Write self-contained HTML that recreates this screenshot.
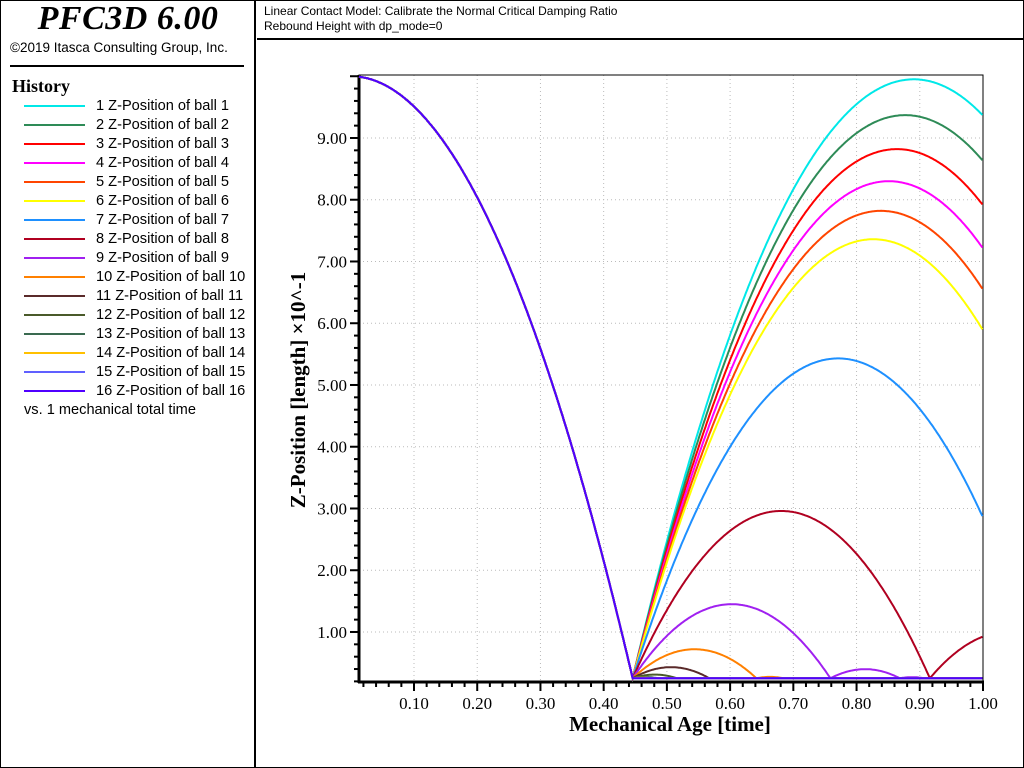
<!DOCTYPE html>
<html><head><meta charset="utf-8"><style>
body{margin:0;background:#fff;width:1024px;height:768px;overflow:hidden;font-family:"Liberation Sans",sans-serif}
#frame{position:absolute;left:0;top:0;width:1022px;height:766px;border:1px solid #000}
#left{position:absolute;left:0;top:0;width:256px;height:768px;border-right:2px solid #000;box-sizing:border-box}
#title{position:absolute;left:0;top:0px;width:256px;text-align:center;font:italic bold 34px "Liberation Serif",serif;letter-spacing:0.5px}
#copy{position:absolute;left:10px;top:40px;font-size:13.5px}
#sep{position:absolute;left:10px;top:65px;width:234px;height:2px;background:#000}
#hist{position:absolute;left:12px;top:76px;font:bold 18px "Liberation Serif",serif}
.le{position:absolute;left:24px;font-size:14.6px;white-space:nowrap}
.le span{display:inline-block;width:61px;height:2px;vertical-align:middle;margin-right:11px}
#head{position:absolute;left:257px;top:0;width:767px;height:40px;border-bottom:2px solid #000;font-size:12px;line-height:15px;padding:4px 7px;box-sizing:border-box}
</style></head><body>
<div id="frame"></div>
<div id="left">
<div id="title">PFC3D 6.00</div>
<div id="copy">©2019 Itasca Consulting Group, Inc.</div>
<div id="sep"></div>
<div id="hist">History</div>
<div id="legend"></div>
</div>
<div id="head">Linear Contact Model: Calibrate the Normal Critical Damping Ratio<br>Rebound Height with dp_mode=0</div>
<svg id="chart" width="1024" height="768" style="position:absolute;left:0;top:0"></svg>
<script>
const seriesLabels=["1 Z-Position of ball 1","2 Z-Position of ball 2","3 Z-Position of ball 3","4 Z-Position of ball 4","5 Z-Position of ball 5","6 Z-Position of ball 6","7 Z-Position of ball 7","8 Z-Position of ball 8","9 Z-Position of ball 9","10 Z-Position of ball 10","11 Z-Position of ball 11","12 Z-Position of ball 12","13 Z-Position of ball 13","14 Z-Position of ball 14","15 Z-Position of ball 15","16 Z-Position of ball 16"];
const seriesColors=["#00e8e8","#2e8b57","#ff0000","#ff00ff","#ff4500","#ffff00","#1e90ff","#b00020","#a020f0","#ff8000","#5a2a2a","#4a5a2a","#3a6a50","#ffc000","#6060ff","#5000ff"];
// first rebound peak heights (x10^-1 length)
const firstPeaks=[9.95,9.37,8.82,8.30,7.82,7.36,5.43,2.96,1.45,0.72,0.43,0.31,0.27,0.26,0.25,0.25];
const dropHeight=10.0, floorZ=0.25, gravity=98.1;
const xTicks=[0.1,0.2,0.3,0.4,0.5,0.6,0.7,0.8,0.9,1.0];
const yTicks=[1,2,3,4,5,6,7,8,9];
const X0=0.013,X1=1.0,Y0=0.19,Y1=10.02;
const PL=359,PR=983,PT=75,PB=682;
const sx=v=>PL+(v-X0)/(X1-X0)*(PR-PL);
const sy=v=>PB-(v-Y0)/(Y1-Y0)*(PB-PT);
const svg=document.getElementById('chart');
const NS='http://www.w3.org/2000/svg';
function mk(t,a){const e=document.createElementNS(NS,t);for(const k in a)e.setAttribute(k,a[k]);svg.appendChild(e);return e;}
xTicks.forEach(v=>{const l=mk('line',{x1:sx(v),x2:sx(v),y1:PT,y2:PB,stroke:'#bbb','stroke-dasharray':'1,3'});

});
yTicks.forEach(v=>{const l=mk('line',{x1:PL,x2:PR,y1:sy(v),y2:sy(v),stroke:'#bbb','stroke-dasharray':'1,3'});

});
mk('rect',{x:PL,y:PT,width:PR-PL,height:PB-PT,fill:'none',stroke:'#000','stroke-width':1});
let ax=mk('line',{x1:PL-1,x2:PR+1,y1:PB,y2:PB,stroke:'#000','stroke-width':3});


let ay=mk('line',{x1:PL,x2:PL,y1:PT,y2:PB+1,stroke:'#000','stroke-width':3});


for(let i=1;i<=50;i++){const v=i*0.02;if(v<X0)continue;const maj=i%5==0;
mk('line',{x1:sx(v),x2:sx(v),y1:PB,y2:PB+(maj?9:5),stroke:'#000','stroke-width':2});}
for(let i=1;i<=50;i++){const v=i*0.2;if(v<Y0||v>Y1)continue;const maj=i%5==0;
mk('line',{x1:PL,x2:PL-(maj?9:5),y1:sy(v),y2:sy(v),stroke:'#000','stroke-width':2});}
xTicks.forEach(v=>{const t=mk('text',{x:sx(v),y:PB+27,'text-anchor':'middle','font-family':'Liberation Serif,serif','font-size':17});t.textContent=v.toFixed(2);

});
yTicks.forEach(v=>{const t=mk('text',{x:PL-12,y:sy(v)+6,'text-anchor':'end','font-family':'Liberation Serif,serif','font-size':17});t.textContent=v.toFixed(2);

});
let xt=mk('text',{x:670,y:731,'text-anchor':'middle','font-family':'Liberation Serif,serif','font-size':21,'font-weight':'bold'});xt.textContent='Mechanical Age [time]';


let yt=mk('text',{x:0,y:0,'text-anchor':'middle','font-family':'Liberation Serif,serif','font-size':21,'font-weight':'bold',transform:'translate(305,390) rotate(-90)'});yt.textContent='Z-Position [length] ×10^-1';


function traj(peak){const pts=[];const tFall=Math.sqrt(2*(dropHeight-floorZ)/gravity);
const e2=Math.max(0,(peak-floorZ)/(dropHeight-floorZ));const e=Math.sqrt(e2);
let v=gravity*tFall*e, tb=tFall;
for(let t=X0;t<=1.0001;t+=0.002){let z;
if(t<=tFall)z=dropHeight-0.5*gravity*t*t;
else{while(v>0.01&&t>tb+2*v/gravity){tb+=2*v/gravity;v*=e;}
const d=t-tb;z=(v>0.01&&d<=2*v/gravity)?floorZ+v*d-0.5*gravity*d*d:floorZ;}
pts.push([t,z]);}
pts.push([tFall,floorZ]);pts.sort((a,b)=>a[0]-b[0]);return pts;}
const leg=document.getElementById('legend');
for(let i=0;i<seriesLabels.length;i++){
const p=traj(firstPeaks[i]);
const path=mk('path',{d:'M'+p.map(q=>sx(q[0]).toFixed(1)+','+sy(q[1]).toFixed(1)).join('L'),fill:'none',stroke:seriesColors[i],'stroke-width':2});

}
seriesLabels.forEach((s,i)=>{const d=document.createElement('div');d.className='le';d.style.top=(98+i*19)+'px';
d.innerHTML='<span style="background:'+seriesColors[i]+'"></span>'+s;


leg.appendChild(d);});
const vs=document.createElement('div');vs.className='le';vs.style.top=(98+16*19)+'px';vs.textContent='vs. 1 mechanical total time';


leg.appendChild(vs);
</script>
</body></html>
